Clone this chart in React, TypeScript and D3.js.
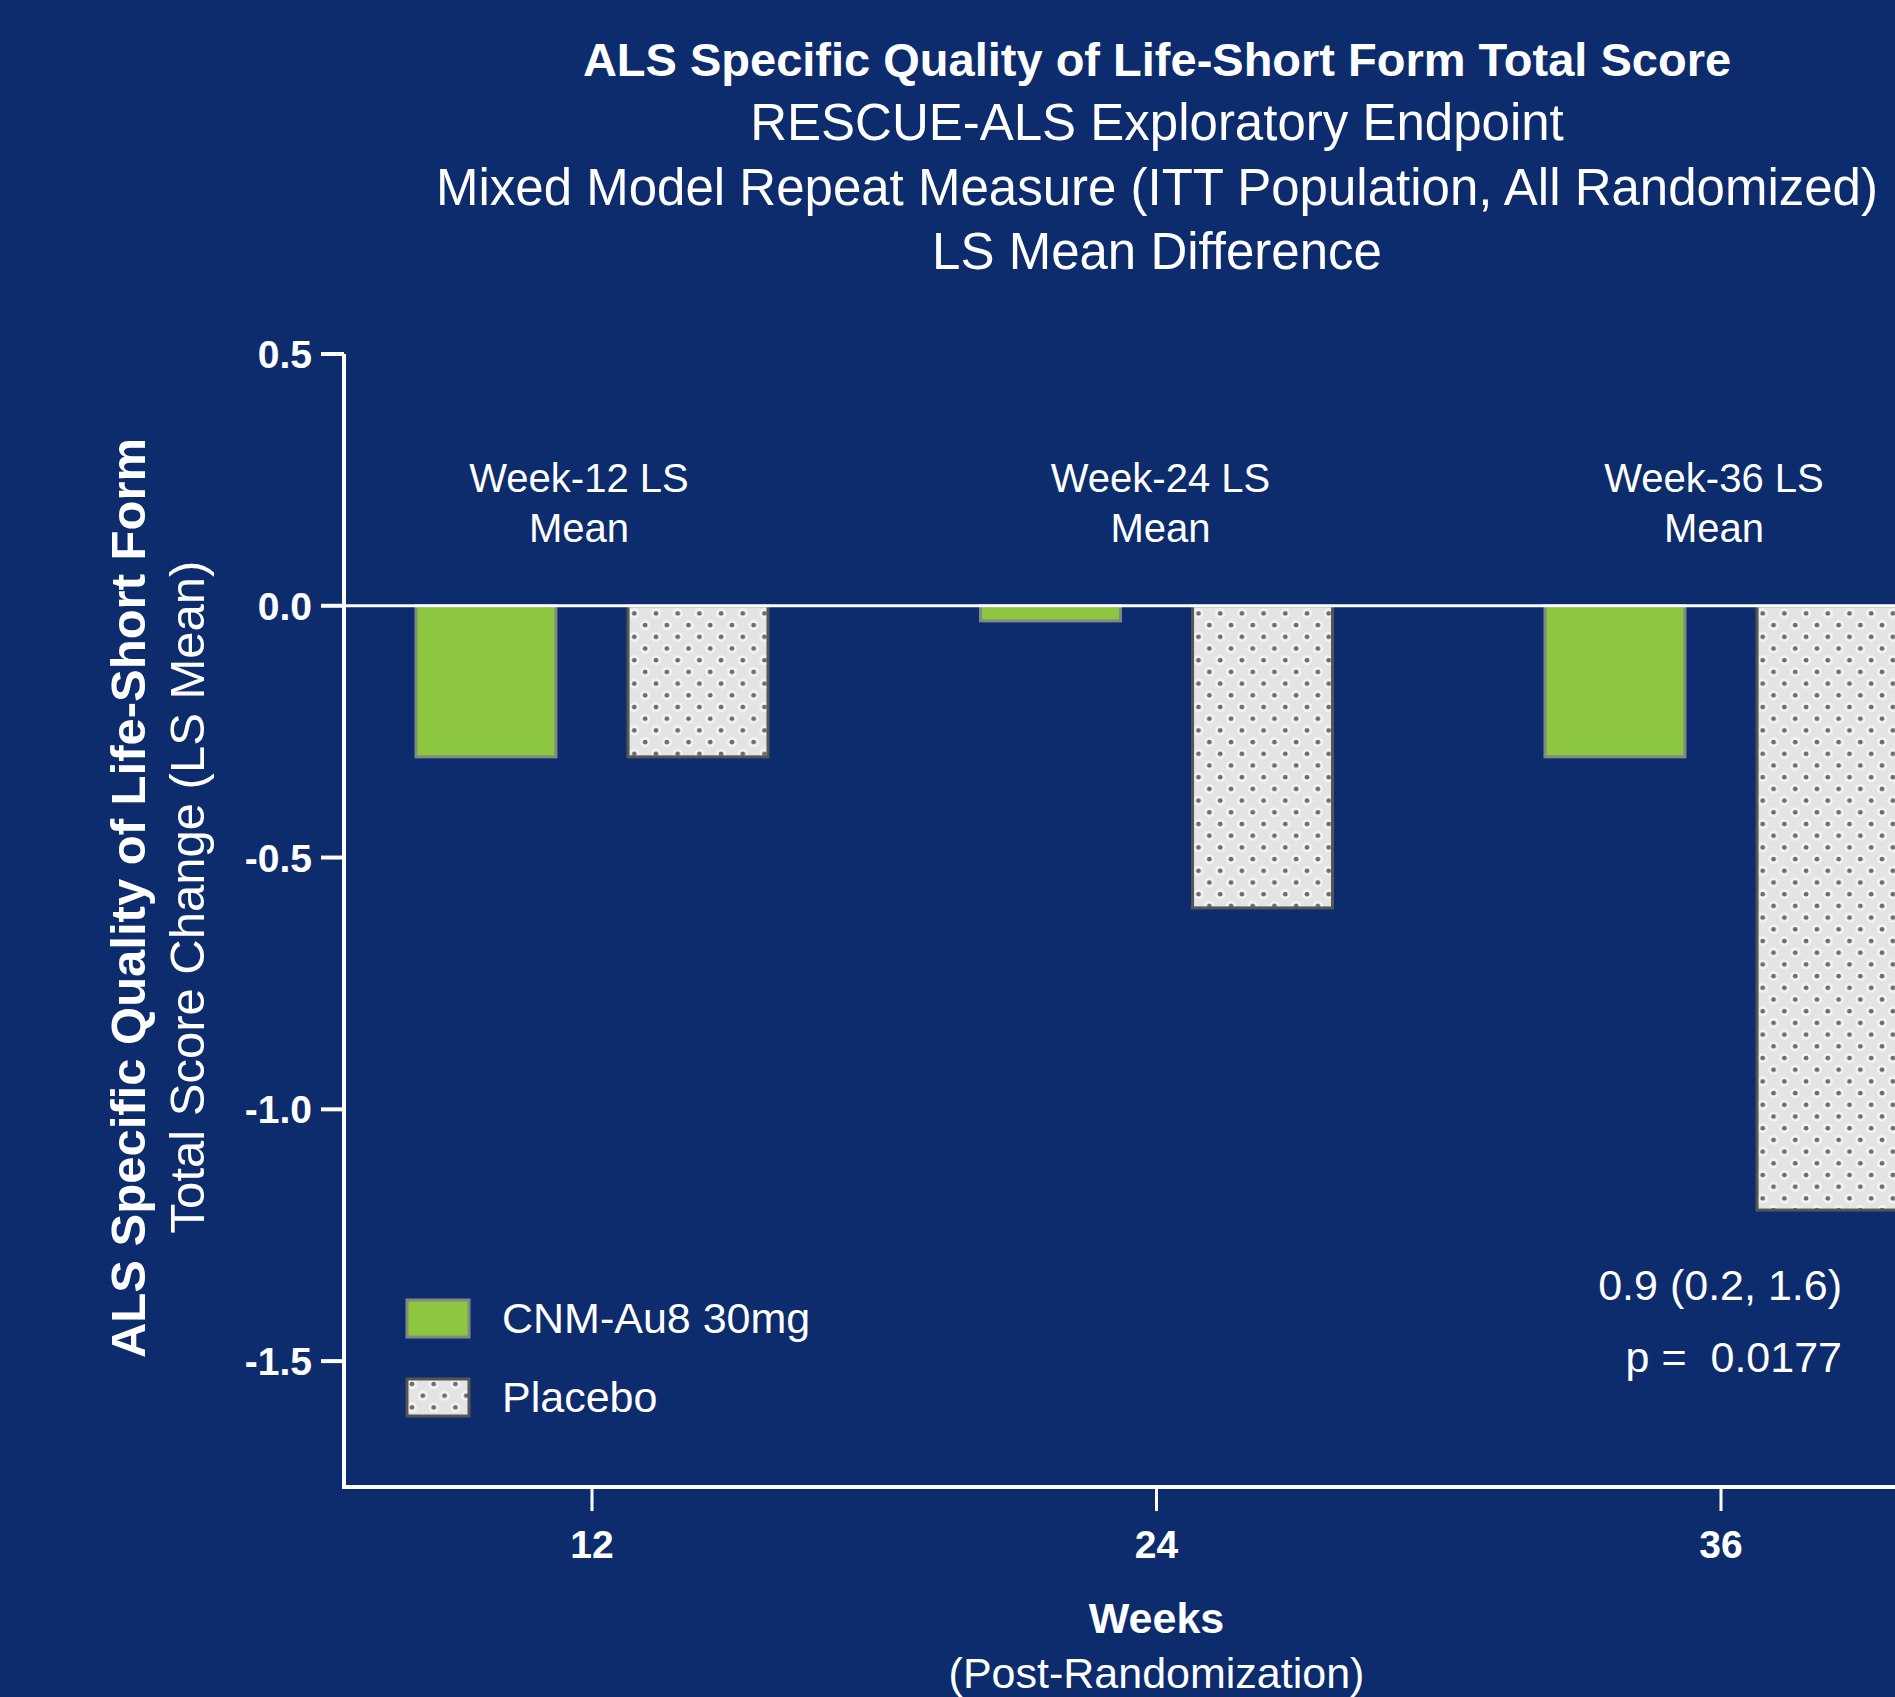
import React from "react";
import * as d3 from "d3";

// chart values
const weeks = ["12", "24", "36"];
const series = ["CNM-Au8 30mg", "Placebo"];
const cnmValues = [-0.3, -0.03, -0.3];
const placeboValues = [-0.3, -0.6, -1.2];
const yTicks = [0.5, 0.0, -0.5, -1.0, -1.5];
const weekNotes = ["Week-12 LS", "Week-24 LS", "Week-36 LS"];
const noteShift = [-13, 4, -7];
const titleLines = [
  "ALS Specific Quality of Life-Short Form Total Score",
  "RESCUE-ALS Exploratory Endpoint",
  "Mixed Model Repeat Measure (ITT Population, All Randomized)",
  "LS Mean Difference",
];
const statLines = ["0.9 (0.2, 1.6)", "p =  0.0177"];

const W = 1895;
const H = 1697;
const BG = "#0d2c6e";
const GREEN = "#8dc63f";
const FONT = "'Liberation Sans', Arial, Helvetica, sans-serif";

function App() {
  const left = 344;
  const bottom = 1487;

  const x = d3.scalePoint().domain(weeks).range([592, 1721]);
  const inner = d3.scaleBand().domain(series).range([-176, 176]).paddingInner(0.34);
  const y = d3.scaleLinear().domain([-1.75, 0.5]).range([bottom, 354]);
  const fmt = (v) => d3.format(".1f")(v).replace("\u2212", "-");

  const bars = [];
  weeks.forEach((wk, i) => {
    bars.push({ wk, s: series[0], v: cnmValues[i] });
    bars.push({ wk, s: series[1], v: placeboValues[i] });
  });

  return (
    <svg
      width={W}
      height={H}
      style={{ position: "absolute", left: 0, top: 0, background: BG, fontFamily: FONT }}
    >
      <defs>
        <pattern id="dots" patternUnits="userSpaceOnUse" width={21.7} height={23.4}>
          <rect width={21.7} height={23.4} fill="#e4e4e4" />
          <circle cx={5} cy={5} r={5} fill="#f5f5f5" />
          <circle cx={15.85} cy={16.7} r={5} fill="#f5f5f5" />
          <circle cx={5} cy={5} r={2.4} fill="#6c6c6c" />
          <circle cx={15.85} cy={16.7} r={2.4} fill="#6c6c6c" />
        </pattern>
      </defs>
      <rect width={W} height={H} fill={BG} />

      {/* title */}
      {titleLines.map((t, i) => (
        <text
          key={i}
          x={1157}
          y={76 + i * 64.3}
          textAnchor="middle"
          fill="#fff"
          fontSize={i === 0 ? 47 : 51}
          fontWeight={i === 0 ? "bold" : "normal"}
        >
          {t}
        </text>
      ))}

      {/* bars */}
      {bars.map((b, i) => {
        const isPlacebo = b.s === series[1];
        return (
          <rect
            key={i}
            x={x(b.wk) + inner(b.s)}
            y={y(0)}
            width={inner.bandwidth()}
            height={y(b.v) - y(0)}
            fill={isPlacebo ? "url(#dots)" : GREEN}
            stroke={isPlacebo ? "#555" : "#7f8a80"}
            strokeWidth={3}
          />
        );
      })}

      {/* zero line */}
      <line x1={left} x2={W} y1={y(0)} y2={y(0)} stroke="#fff" strokeWidth={3} />

      {/* y axis */}
      <line x1={left} x2={left} y1={y(0.5)} y2={bottom} stroke="#fff" strokeWidth={4} />
      {yTicks.map((t) => (
        <g key={t}>
          <line x1={left - 23} x2={left} y1={y(t)} y2={y(t)} stroke="#fff" strokeWidth={4} />
          <text
            x={312}
            y={y(t)}
            dy="0.36em"
            textAnchor="end"
            fill="#fff"
            fontSize={39}
            fontWeight="bold"
          >
            {fmt(t)}
          </text>
        </g>
      ))}

      {/* x axis */}
      <line x1={left - 2} x2={W} y1={bottom} y2={bottom} stroke="#fff" strokeWidth={4} />
      {weeks.map((wk) => (
        <g key={wk}>
          <line x1={x(wk)} x2={x(wk)} y1={bottom} y2={bottom + 24} stroke="#fff" strokeWidth={3} />
          <text x={x(wk)} y={1558} textAnchor="middle" fill="#fff" fontSize={39} fontWeight="bold">
            {wk}
          </text>
        </g>
      ))}
      <text x={x("24")} y={1633} textAnchor="middle" fill="#fff" fontSize={43} fontWeight="bold">
        Weeks
      </text>
      <text x={x("24")} y={1688} textAnchor="middle" fill="#fff" fontSize={43}>
        (Post-Randomization)
      </text>

      {/* y axis title */}
      <text
        transform="translate(145,898) rotate(-90)"
        textAnchor="middle"
        fill="#fff"
        fontSize={49}
        fontWeight="bold"
      >
        ALS Specific Quality of Life-Short Form
      </text>
      <text transform="translate(204,897) rotate(-90)" textAnchor="middle" fill="#fff" fontSize={49}>
        Total Score Change (LS Mean)
      </text>

      {/* week notes */}
      {weeks.map((wk, i) => (
        <g key={wk} fill="#fff" fontSize={40} textAnchor="middle">
          <text x={x(wk) + noteShift[i]} y={492}>
            {weekNotes[i]}
          </text>
          <text x={x(wk) + noteShift[i]} y={542}>
            Mean
          </text>
        </g>
      ))}

      {/* legend */}
      {series.map((s, i) => (
        <g key={s} transform={`translate(407,${1300 + i * 79})`}>
          <rect
            width={62}
            height={37}
            fill={i === 1 ? "url(#dots)" : GREEN}
            stroke={i === 1 ? "#555" : "#7f8a80"}
            strokeWidth={3}
          />
          <text x={95} y={33} fill="#fff" fontSize={43}>
            {s}
          </text>
        </g>
      ))}

      {/* stats */}
      {statLines.map((t, i) => (
        <text
          key={i}
          x={1842}
          y={1300 + i * 72}
          textAnchor="end"
          fill="#fff"
          fontSize={43}
          style={{ whiteSpace: "pre" }}
        >
          {t}
        </text>
      ))}
    </svg>
  );
}

export default App;
